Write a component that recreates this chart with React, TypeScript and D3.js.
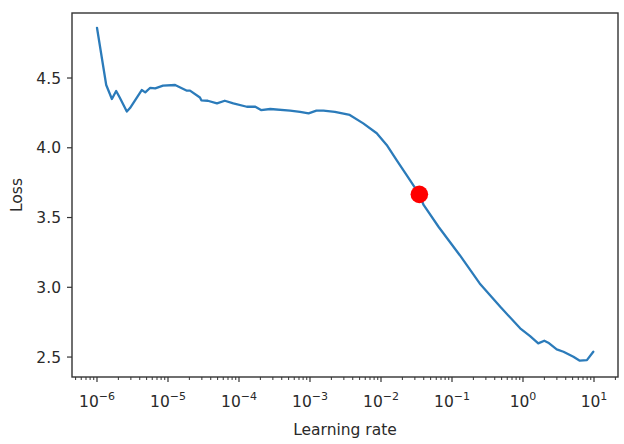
import React from "react";
import * as d3 from "d3";

// learning rate (log10 exponent) and loss
const lrExp = [
  -6.0, -5.87, -5.79, -5.73, -5.68, -5.58, -5.535, -5.37, -5.32, -5.25, -5.18, -5.07, -4.9, -4.74,
  -4.69, -4.55, -4.53, -4.44, -4.31, -4.2, -4.08, -3.89, -3.77, -3.69, -3.56, -3.28, -3.14, -3.02,
  -2.91, -2.81, -2.65, -2.44, -2.25, -2.06, -1.92, -1.78, -1.62, -1.46, -1.4, -1.19, -0.89, -0.61,
  -0.32, -0.04, 0.1, 0.215, 0.3, 0.356, 0.475, 0.57, 0.71, 0.8, 0.9, 0.99,
];
const loss = [
  4.86, 4.45, 4.35, 4.407, 4.36, 4.26, 4.285, 4.414, 4.397, 4.43, 4.426, 4.445, 4.45, 4.41,
  4.41, 4.36, 4.34, 4.337, 4.318, 4.337, 4.318, 4.294, 4.294, 4.27, 4.278, 4.266, 4.258, 4.247,
  4.266, 4.266, 4.258, 4.235, 4.175, 4.104, 4.02, 3.912, 3.79, 3.666, 3.59, 3.434, 3.23, 3.028,
  2.86, 2.706, 2.65, 2.598, 2.617, 2.603, 2.555, 2.538, 2.502, 2.474, 2.478, 2.538,
];
const markerLr = [0.0347];
const markerLoss = [3.666];
const xTickExp = [-6, -5, -4, -3, -2, -1, 0, 1];
const yTicks = [2.5, 3.0, 3.5, 4.0, 4.5];

const W = 624;
const H = 444;
const m = { left: 72, top: 13, right: 618, bottom: 377 };
const FONT = "'DejaVu Sans', sans-serif";
const TXT = "#2a2a2a";
const FS = 15.5;

export default function App() {
  const x = d3.scaleLog().domain([Math.pow(10, -6.352), Math.pow(10, 1.338)]).range([m.left, m.right]);
  const y = d3.scaleLinear().domain([2.357, 4.966]).range([m.bottom, m.top]);
  const pts = lrExp.map((e, i) => [Math.pow(10, e), loss[i]] as [number, number]);
  const line = d3.line<[number, number]>().x((d) => x(d[0])).y((d) => y(d[1]));

  const minor: number[] = [];
  for (let e = -7; e <= 1; e++) {
    for (let k = 2; k <= 9; k++) {
      const v = k * Math.pow(10, e);
      if (v >= x.domain()[0] && v <= x.domain()[1]) minor.push(v);
    }
  }
  const sup = (e: number) => (e < 0 ? "\u2212" + Math.abs(e) : String(e));

  return (
    <svg width={W} height={H} style={{ position: "absolute", left: 0, top: 0, background: "#fff" }}>
      <rect x={0} y={0} width={W} height={H} fill="#fff" />
      <path d={line(pts) || ""} fill="none" stroke="#2b7bba" strokeWidth={2.3} strokeLinejoin="round" strokeLinecap="round" />
      {markerLr.map((v, i) => (
        <circle key={i} cx={x(v)} cy={y(markerLoss[i])} r={8.8} fill="#ff0000" />
      ))}
      <rect x={m.left} y={m.top} width={m.right - m.left} height={m.bottom - m.top} fill="none" stroke="#333" strokeWidth={1.4} />
      {yTicks.map((t) => (
        <g key={t}>
          <line x1={m.left - 5} x2={m.left} y1={y(t)} y2={y(t)} stroke="#333" strokeWidth={1.2} />
          <text x={m.left - 11} y={y(t)} dy="0.36em" textAnchor="end" fontFamily={FONT} fontSize={FS} fill={TXT}>
            {t.toFixed(1)}
          </text>
        </g>
      ))}
      {minor.map((v, i) => (
        <line key={i} x1={x(v)} x2={x(v)} y1={m.bottom} y2={m.bottom + 3} stroke="#333" strokeWidth={1} />
      ))}
      {xTickExp.map((e) => (
        <g key={e}>
          <line x1={x(Math.pow(10, e))} x2={x(Math.pow(10, e))} y1={m.bottom} y2={m.bottom + 5} stroke="#333" strokeWidth={1.2} />
          <text x={x(Math.pow(10, e))} y={407} textAnchor="middle" fontFamily={FONT} fontSize={FS} fill={TXT}>
            10
            <tspan dy={-7} fontSize={11}>{sup(e)}</tspan>
          </text>
        </g>
      ))}
      <text x={(m.left + m.right) / 2} y={435} textAnchor="middle" fontFamily={FONT} fontSize={FS} fill={TXT}>
        Learning rate
      </text>
      <text transform={`translate(22,${(m.top + m.bottom) / 2}) rotate(-90)`} textAnchor="middle" fontFamily={FONT} fontSize={FS} fill={TXT}>
        Loss
      </text>
    </svg>
  );
}
